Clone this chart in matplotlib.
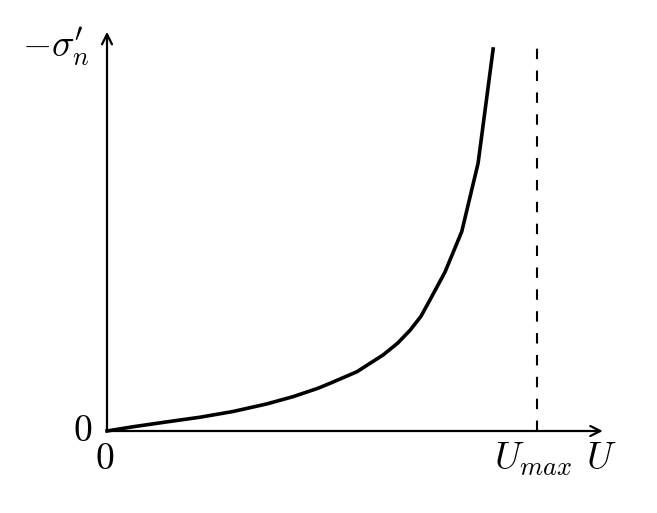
import matplotlib.pyplot as plt
import numpy as np

plt.rcParams["mathtext.fontset"] = "cm"

# curve values (U in units of U_max, stress normalised to top of curve)
u = [0.0, 0.060, 0.140, 0.216, 0.293, 0.372, 0.433, 0.491, 0.519, 0.581,
     0.642, 0.676, 0.705, 0.730, 0.751, 0.786, 0.825, 0.863, 0.898]
sig = [0.0, 0.011, 0.024, 0.036, 0.051, 0.071, 0.090, 0.112, 0.125, 0.155,
       0.199, 0.230, 0.264, 0.300, 0.343, 0.416, 0.522, 0.701, 1.0]
u_max = 1.0
dash_top = 1.016
x_end = 1.153
y_end = 1.045

fig = plt.figure(figsize=(6.57, 5.13), dpi=100)
ax = fig.add_axes([0, 0, 1, 1])
ax.set_xlim(-107 / 430, 550 / 430)
ax.set_ylim(-82 / 382, 431 / 382)
ax.axis("off")

# axes with arrows
ax.annotate("", xy=(x_end, 0), xytext=(0, 0),
            arrowprops=dict(arrowstyle="->", lw=1.6, color="black",
                            shrinkA=0, shrinkB=0, mutation_scale=18))
ax.annotate("", xy=(0, y_end), xytext=(0, 0),
            arrowprops=dict(arrowstyle="->", lw=1.6, color="black",
                            shrinkA=0, shrinkB=0, mutation_scale=18))

ax.plot(u, sig, color="black", lw=2.6, solid_joinstyle="round")
ax.plot([u_max, u_max], [0, dash_top], color="black", lw=1.5, dashes=(5, 5.5))

fs = 27
ax.text(-0.035, 0, r"$0$", fontsize=fs, ha="right", va="center")
ax.text(-0.005, -0.025, r"$0$", fontsize=fs, ha="center", va="top")
ax.text(-0.04, 1.005, r"$-\sigma_n'$", fontsize=fs, ha="right", va="center")
ax.text(u_max - 0.01, -0.025, r"$U_{max}$", fontsize=fs, ha="center", va="top")
ax.text(x_end - 0.003, -0.025, r"$U$", fontsize=fs, ha="center", va="top")

fig.savefig("out.png", dpi=100)
